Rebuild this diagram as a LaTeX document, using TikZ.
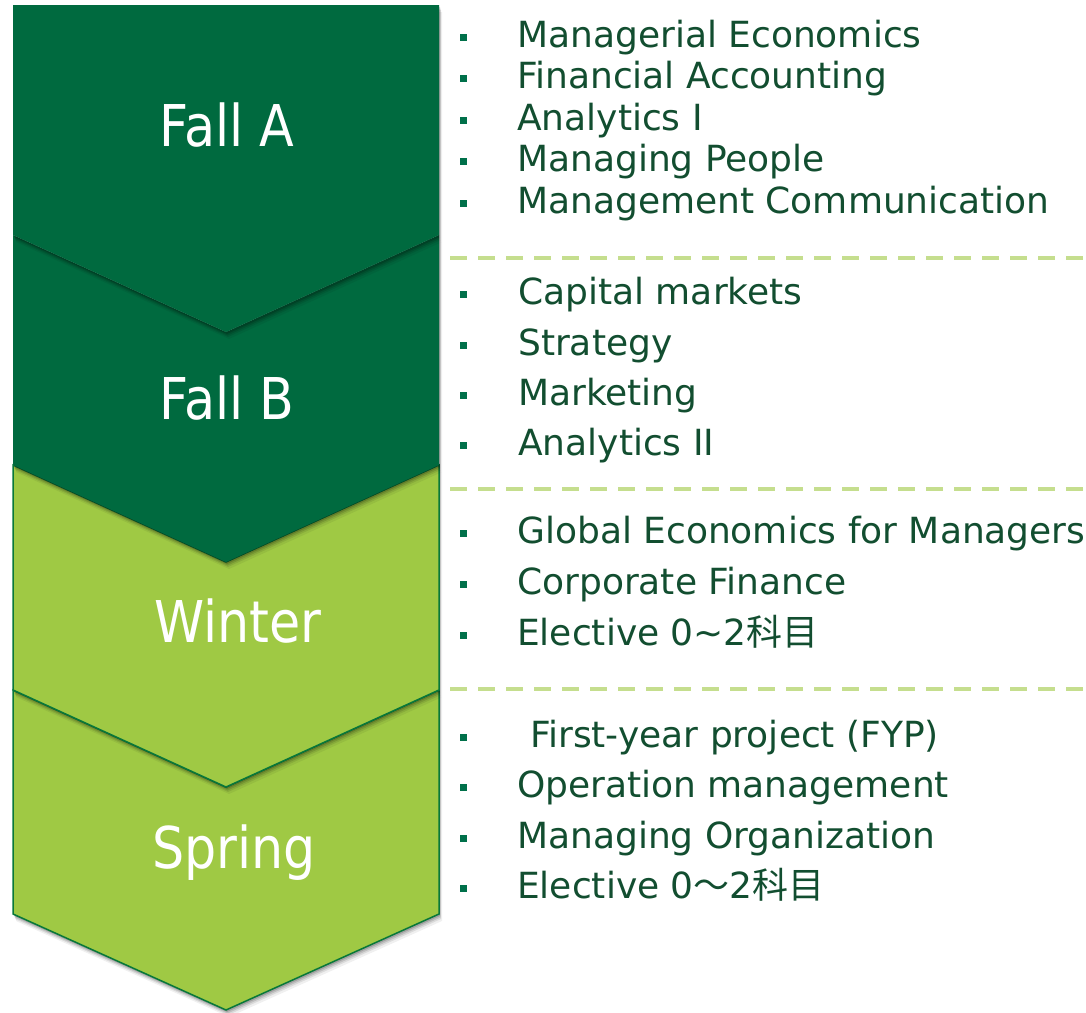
\documentclass[tikz,border=0pt]{standalone}
\usepackage{fontspec}
\setmainfont{DejaVu Sans}
\newfontfamily\jp{Noto Sans CJK JP}
\newfontfamily\labfont[FakeStretch=0.88]{DejaVu Sans}
\definecolor{dkgreen}{RGB}{0,106,63}
\definecolor{ltgreen}{RGB}{159,201,68}
\definecolor{edgegreen}{RGB}{8,120,58}
\definecolor{dashgreen}{RGB}{197,222,142}
\definecolor{txtgreen}{RGB}{18,78,48}
\definecolor{bulgreen}{RGB}{0,112,74}
\newcommand\shapeFallA[1]{\path[#1] (13,5) -- (439,5) -- (439,235) -- (226,332) -- (13,235) -- cycle;}
\newcommand\shapeFallB[1]{\path[#1] (13,235) -- (226,332) -- (439,235) -- (439,465) -- (226,562) -- (13,465) -- cycle;}
\newcommand\shapeWinter[1]{\path[#1] (13,465) -- (226,562) -- (439,465) -- (439,690) -- (226,787) -- (13,690) -- cycle;}
\newcommand\shapeSpring[1]{\path[#1] (13,690) -- (226,787) -- (439,690) -- (439,914) -- (226,1010) -- (13,914) -- cycle;}
\newcommand\softshadow[1]{%
  #1{fill=black, fill opacity=0.06, shift={(3pt,-7pt)}}%
  #1{fill=black, fill opacity=0.09, shift={(2pt,-5pt)}}%
  #1{fill=black, fill opacity=0.12, shift={(1.5pt,-3.5pt)}}%
  #1{fill=black, fill opacity=0.16, shift={(1pt,-2pt)}}%
}
\tikzset{
  labeltext/.style={text=white, font=\labfont\fontsize{57.6}{60}\selectfont, inner sep=0pt, anchor=base},
  item/.style={text=txtgreen, font=\fontsize{36}{40}\selectfont, inner sep=0pt, anchor=base west},
  bul/.style={fill=bulgreen, minimum size=7pt, inner sep=0pt, draw=none},
  sep/.style={draw=dashgreen, line width=4pt, dash pattern=on 17pt off 11pt},
}
\begin{document}
\begin{tikzpicture}[x=1pt, y=-1pt]
\useasboundingbox (0,0) rectangle (1086,1012);
\fill[white] (0,0) rectangle (1086,1012);
% chevrons, bottom first
\softshadow\shapeSpring
\shapeSpring{fill=ltgreen, draw=edgegreen, line width=1.5pt, line join=miter}
\softshadow\shapeWinter
\shapeWinter{fill=ltgreen, draw=edgegreen, line width=1.5pt, line join=miter}
\softshadow\shapeFallB
\shapeFallB{fill=dkgreen}
\softshadow\shapeFallA
\shapeFallA{fill=dkgreen}
% labels
\node[labeltext] (fa) at (227,146) {Fall A};
\node[labeltext] (fb) at (227,419) {Fall B};
\node[labeltext] (wi) at (238,642) {Winter};
\node[labeltext] (sp) at (234,868) {Spring};
% separators
\coordinate (s1a) at (450,258); \coordinate (s1b) at (1086,258);
\coordinate (s2a) at (450,489); \coordinate (s2b) at (1086,489);
\coordinate (s3a) at (450,689); \coordinate (s3b) at (1086,689);
\draw[sep] (s1a) -- (s1b);
\draw[sep] (s2a) -- (s2b);
\draw[sep] (s3a) -- (s3b);
% Fall A list
\foreach \n/\y/\t in {a1/47/Managerial Economics, a2/88.5/Financial Accounting, a3/130/Analytics I, a4/171.5/Managing People, a5/213/Management Communication}{
  \node[bul] (b\n) at (463,\y-10) {};
  \node[item] (\n) at (517,\y) {\t};
}
% Fall B list
\foreach \n/\y/\t in {b1/304/Capital markets, b2/355/Strategy, b3/405/Marketing, b4/455/Analytics II}{
  \node[bul] (b\n) at (463,\y-10) {};
  \node[item] (\n) at (518,\y) {\t};
}
% Winter list
\node[bul] (bw1) at (463,533) {};
\node[item] (w1) at (517,543) {Global Economics for Managers};
\node[bul] (bw2) at (463,584) {};
\node[item] (w2) at (517,594) {Corporate Finance};
\node[bul] (bw3) at (463,635) {};
\node[item] (w3) at (517,645) {Elective 0\char`\~2{\jp 科目}};
% Spring list
\node[bul] (bs1) at (463,737) {};
\node[item] (s1) at (530,747) {First-year project (FYP)};
\node[bul] (bs2) at (463,787) {};
\node[item] (s2) at (517,797) {Operation management};
\node[bul] (bs3) at (463,838) {};
\node[item] (s3) at (517,848) {Managing Organization};
\node[bul] (bs4) at (463,888) {};
\node[item] (s4) at (517,898) {Elective 0{\jp ～}2{\jp 科目}};
\end{tikzpicture}
\end{document}
